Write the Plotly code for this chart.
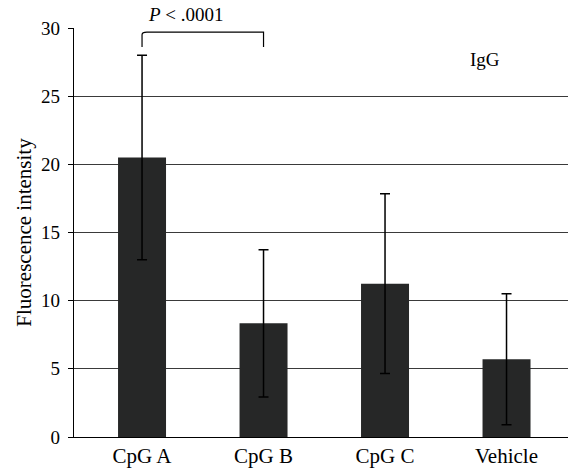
import plotly.graph_objects as go

categories = ["CpG A", "CpG B", "CpG C", "Vehicle"]
values = [20.5, 8.34, 11.25, 5.7]
errors = [7.5, 5.4, 6.6, 4.8]
y_ticks = [0, 5, 10, 15, 20, 25, 30]

FONT = "Liberation Serif"
BAR = "#262727"

fig = go.Figure()
fig.add_trace(go.Bar(
    x=categories, y=values, width=0.395,
    marker=dict(color=BAR, line=dict(width=0)),
    error_y=dict(type="data", array=errors, visible=True,
                 color="black", thickness=1.5, width=5),
    showlegend=False,
))

# significance bracket between CpG A and CpG B
b_lo, b_hi = 28.6, 29.7
fig.add_shape(type="path", xref="x", yref="y",
              path=f"M 0,{b_lo} L 0,{b_hi - 0.2} Q 0,{b_hi} 0.04,{b_hi} L 1,{b_hi} L 1,{b_lo}",
              line=dict(color="black", width=1.2))
fig.add_annotation(x=0.36, y=1.032, xref="x", yref="paper", yanchor="middle",
                   text="<i>P</i> < .0001", showarrow=False,
                   font=dict(family=FONT, size=19, color="black"))
fig.add_annotation(x=2.82, y=27.66, xref="x", yref="y",
                   text="IgG", showarrow=False,
                   font=dict(family=FONT, size=19, color="black"))

fig.update_layout(
    width=568, height=472,
    margin=dict(l=74, r=0, t=28, b=35),
    plot_bgcolor="white", paper_bgcolor="white",
    font=dict(family=FONT, size=19, color="black"),
    bargap=0.6,
    xaxis=dict(range=[-0.56, 3.506], showline=True, linecolor="black", linewidth=1.2,
               ticks="", showgrid=False, tickfont=dict(size=21)),
    yaxis=dict(range=[0, 30], tickvals=y_ticks, showline=True, linecolor="black",
               linewidth=1.2, ticks="outside", ticklen=5, tickcolor="black",
               showgrid=True, gridcolor="#3a3a3a", gridwidth=1.2, zeroline=False,
               ticklabelstandoff=4,
               title=dict(text="Fluorescence intensity", standoff=3,
                          font=dict(size=21)),
               tickfont=dict(size=19)),
)

fig.write_html("out.html", config={"displayModeBar": False},
               post_script="document.body.style.margin='0';")
